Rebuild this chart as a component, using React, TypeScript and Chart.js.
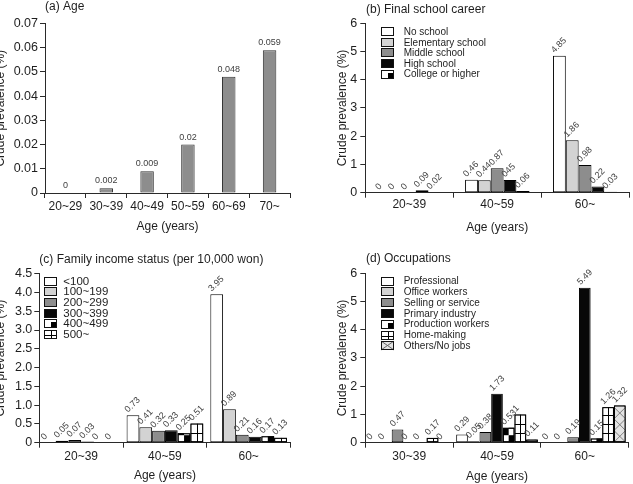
import React, { useEffect, useRef } from "react";
import { Chart, registerables } from "chart.js";

Chart.register(...registerables);

const FONT = "'Liberation Sans', Arial, Helvetica, sans-serif";
const TEXT = "#1e1e1e";
const AXIS = "#2a2a2a";
const VALUE_TEXT = "#404040";

// (a) Age
const ageGroups = ["20~29", "30~39", "40~49", "50~59", "60~69", "70~"];
const ageValues = [0, 0.002, 0.009, 0.02, 0.048, 0.059];

// (b) Final school career
const schoolAges = ["20~39", "40~59", "60~"];
const noSchool = [0, 0.46, 4.85];
const elementarySchool = [0, 0.44, 1.86];
const middleSchool = [0, 0.87, 0.98];
const highSchool = [0.09, 0.45, 0.22];
const highSchoolText = ["0.09", "045", "0.22"];
const collegeOrHigher = [0.02, 0.06, 0.03];

// (c) Family income status
const incomeAges = ["20~39", "40~59", "60~"];
const incomeBelow100 = [0, 0.73, 3.95];
const income100to199 = [0.05, 0.41, 0.89];
const income200to299 = [0.07, 0.32, 0.21];
const income300to399 = [0.03, 0.33, 0.16];
const income400to499 = [0, 0.25, 0.17];
const income500plus = [0, 0.51, 0.13];

// (d) Occupations
const occupationAges = ["30~39", "40~59", "60~"];
const professional = [0, 0.29, 0];
const officeWorkers = [0, 0.05, 0];
const sellingService = [0.47, 0.38, 0.19];
const primaryIndustry = [0, 1.73, 5.49];
const productionWorkers = [0, 0.53, 0.15];
const homeMaking = [0.17, 1, 1.26];
const othersNoJobs = [0, 0.11, 1.32];

type Fill = "white" | "light" | "mid" | "black" | "checker" | "grid" | "cross";

const FILL_COLOR: Record<Fill, string> = {
  white: "#ffffff",
  light: "#d3d3d3",
  mid: "#8d8d8d",
  black: "#080808",
  checker: "#ffffff",
  grid: "#ffffff",
  cross: "#e3e3e3",
};

interface Series {
  name: string;
  values: number[];
  fill: Fill;
  texts?: string[];
}

interface Panel {
  key: string;
  left: number;
  top: number;
  width: number;
  height: number;
  area: { l: number; r: number; t: number; b: number };
  heading: string;
  headingX: number;
  headingY: number;
  yTitleX: number;
  categories: string[];
  series: Series[];
  yMax: number;
  yStep: number;
  yFmt: (v: number) => string;
  yPad: number;
  xPad: number;
  xTitlePad: number;
  barPct: number;
  catPct: number;
  rotated: boolean;
  legend?: { boxX: number; textX: number; y0: number; step: number; size: number };
}

const panels: Panel[] = [
  {
    key: "a",
    left: 0,
    top: 0,
    width: 316,
    height: 240,
    area: { l: 45, r: 290, t: 23.5, b: 193 },
    heading: "(a) Age",
    headingX: 45,
    headingY: 7,
    yTitleX: 1,
    categories: ageGroups,
    series: [{ name: "Age", values: ageValues, fill: "mid" }],
    yMax: 0.07,
    yStep: 0.01,
    yFmt: (v) => (v === 0 ? "0" : v.toFixed(2)),
    yPad: 2,
    xPad: 1.5,
    xTitlePad: 6,
    barPct: 0.33,
    catPct: 1,
    rotated: false,
  },
  {
    key: "b",
    left: 316,
    top: 0,
    width: 317,
    height: 240,
    area: { l: 49.3, r: 313, t: 23.3, b: 192.7 },
    heading: "(b) Final school career",
    headingX: 50,
    headingY: 10,
    yTitleX: 26.7,
    categories: schoolAges,
    series: [
      { name: "No school", values: noSchool, fill: "white" },
      { name: "Elementary school", values: elementarySchool, fill: "light" },
      { name: "Middle school", values: middleSchool, fill: "mid" },
      { name: "High school", values: highSchool, fill: "black", texts: highSchoolText },
      { name: "College or higher", values: collegeOrHigher, fill: "checker" },
    ],
    yMax: 6,
    yStep: 1,
    yFmt: (v) => String(v),
    yPad: 3,
    xPad: 0,
    xTitlePad: 5,
    barPct: 1,
    catPct: 0.73,
    rotated: true,
    legend: { boxX: 65, textX: 87.7, y0: 31.7, step: 10.6, size: 10 },
  },
  {
    key: "c",
    left: 0,
    top: 240,
    width: 316,
    height: 244,
    area: { l: 39.3, r: 290.5, t: 33.7, b: 202.7 },
    heading: "(c) Family income status (per 10,000 won)",
    headingX: 39.3,
    headingY: 20,
    yTitleX: 1,
    categories: incomeAges,
    series: [
      { name: "<100", values: incomeBelow100, fill: "white" },
      { name: "100~199", values: income100to199, fill: "light" },
      { name: "200~299", values: income200to299, fill: "mid" },
      { name: "300~399", values: income300to399, fill: "black" },
      { name: "400~499", values: income400to499, fill: "checker" },
      { name: "500~", values: income500plus, fill: "grid" },
    ],
    yMax: 4.5,
    yStep: 0.5,
    yFmt: (v) => (v === 0 ? "0" : v.toFixed(1)),
    yPad: 2,
    xPad: 2,
    xTitlePad: 1,
    barPct: 1,
    catPct: 0.915,
    rotated: true,
    legend: { boxX: 44.3, textX: 63.3, y0: 41, step: 10.7, size: 11.5 },
  },
  {
    key: "d",
    left: 316,
    top: 240,
    width: 317,
    height: 244,
    area: { l: 49.3, r: 312.7, t: 33.3, b: 202.7 },
    heading: "(d) Occupations",
    headingX: 50,
    headingY: 19,
    yTitleX: 26.7,
    categories: occupationAges,
    series: [
      { name: "Professional", values: professional, fill: "white" },
      { name: "Office workers", values: officeWorkers, fill: "light" },
      { name: "Selling or service", values: sellingService, fill: "mid" },
      { name: "Primary industry", values: primaryIndustry, fill: "black" },
      { name: "Production workers", values: productionWorkers, fill: "checker" },
      { name: "Home-making", values: homeMaking, fill: "grid" },
      { name: "Others/No jobs", values: othersNoJobs, fill: "cross" },
    ],
    yMax: 6,
    yStep: 1,
    yFmt: (v) => String(v),
    yPad: 3,
    xPad: 2,
    xTitlePad: 0,
    barPct: 1,
    catPct: 0.93,
    rotated: true,
    legend: { boxX: 65, textX: 87.7, y0: 41, step: 10.8, size: 10 },
  },
];

function line(ctx: CanvasRenderingContext2D, x1: number, y1: number, x2: number, y2: number) {
  ctx.beginPath();
  ctx.moveTo(x1, y1);
  ctx.lineTo(x2, y2);
  ctx.stroke();
}

// Hatching drawn inside a bar's rectangle for the patterned series
function decorateBar(ctx: CanvasRenderingContext2D, fill: Fill, l: number, t: number, r: number, b: number) {
  const w = r - l;
  const h = b - t;
  if (h < 0.5 || w <= 0) return;
  if (fill !== "checker" && fill !== "grid" && fill !== "cross") return;
  ctx.save();
  ctx.beginPath();
  ctx.rect(l, t, w, h);
  ctx.clip();
  if (fill === "checker") {
    const cw = w / 2;
    const ch = 7;
    ctx.fillStyle = "#000";
    for (let row = 0; b - row * ch > t; row++) {
      for (let c = 0; c < 2; c++) {
        if ((row + c) % 2 === 1) ctx.fillRect(l + c * cw, b - (row + 1) * ch, cw, ch);
      }
    }
  } else if (fill === "grid") {
    ctx.strokeStyle = "#000";
    ctx.lineWidth = 1;
    const cx = Math.round(l + w / 2) + 0.5;
    line(ctx, cx, t, cx, b);
    for (let k = 1; b - k * 9 > t + 1; k++) {
      const yy = Math.round(b - k * 9) + 0.5;
      line(ctx, l, yy, r, yy);
    }
  } else {
    ctx.strokeStyle = "#666";
    ctx.lineWidth = 0.8;
    for (let k = 0; b - k * w > t - w; k++) {
      const y0 = b - k * w;
      line(ctx, l, y0, r, y0 - w);
      line(ctx, l, y0 - w, r, y0);
    }
  }
  ctx.restore();
  ctx.strokeStyle = "#000";
  ctx.lineWidth = 1;
  ctx.strokeRect(l + 0.5, t + 0.5, w - 1, Math.max(h - 1, 0));
}

function drawSwatch(ctx: CanvasRenderingContext2D, fill: Fill, x: number, y: number, w: number, h: number) {
  ctx.fillStyle = FILL_COLOR[fill];
  ctx.fillRect(x, y, w, h);
  ctx.lineWidth = 1;
  if (fill === "checker") {
    ctx.fillStyle = "#000";
    ctx.fillRect(x + Math.round(w * 0.55), y + 3, w - Math.round(w * 0.55), h - 3);
  } else if (fill === "grid") {
    ctx.strokeStyle = "#000";
    line(ctx, x + Math.round(w / 2) + 0.5, y, x + Math.round(w / 2) + 0.5, y + h);
    line(ctx, x, y + Math.round(h / 2) + 0.5, x + w, y + Math.round(h / 2) + 0.5);
  } else if (fill === "cross") {
    ctx.strokeStyle = "#666";
    line(ctx, x, y, x + w, y + h);
    line(ctx, x, y + h, x + w, y);
  }
  ctx.strokeStyle = "#111";
  ctx.strokeRect(x + 0.5, y + 0.5, w - 1, h - 1);
}

function panelPlugin(panel: Panel) {
  return {
    id: "panelDecor" + panel.key,
    afterDatasetsDraw(chart: any) {
      const ctx: CanvasRenderingContext2D = chart.ctx;
      // patterned fills
      panel.series.forEach((s, di) => {
        const meta = chart.getDatasetMeta(di);
        meta.data.forEach((bar: any) => {
          const p = bar.getProps(["x", "y", "base", "width"], true);
          decorateBar(ctx, s.fill, p.x - p.width / 2, Math.min(p.y, p.base), p.x + p.width / 2, Math.max(p.y, p.base));
        });
      });
      // value labels
      ctx.save();
      ctx.fillStyle = VALUE_TEXT;
      ctx.font = `9px ${FONT}`;
      panel.series.forEach((s, di) => {
        const meta = chart.getDatasetMeta(di);
        meta.data.forEach((bar: any, i: number) => {
          const p = bar.getProps(["x", "y", "width"], true);
          const text = s.texts ? s.texts[i] : String(s.values[i]);
          if (panel.rotated) {
            ctx.save();
            ctx.translate(p.x - p.width / 2 + 1.5, p.y - 2.5);
            ctx.rotate(-Math.PI / 4);
            ctx.textAlign = "left";
            ctx.textBaseline = "alphabetic";
            ctx.fillText(text, 0, 0);
            ctx.restore();
          } else {
            ctx.textAlign = "center";
            ctx.textBaseline = "alphabetic";
            ctx.fillText(text, p.x, p.y - 5);
          }
        });
      });
      ctx.restore();
    },
    afterDraw(chart: any) {
      const ctx: CanvasRenderingContext2D = chart.ctx;
      const area = chart.chartArea;
      ctx.save();
      ctx.fillStyle = TEXT;
      ctx.font = `12px ${FONT}`;
      ctx.textAlign = "left";
      ctx.textBaseline = "middle";
      ctx.fillText(panel.heading, panel.headingX, panel.headingY);

      ctx.save();
      ctx.translate(panel.yTitleX, (area.top + area.bottom) / 2);
      ctx.rotate(-Math.PI / 2);
      ctx.textAlign = "center";
      ctx.textBaseline = "middle";
      ctx.fillText("Crude prevalence (%)", 0, 0);
      ctx.restore();

      const lg = panel.legend;
      if (lg) {
        ctx.font = `${lg.size}px ${FONT}`;
        panel.series.forEach((s, i) => {
          const cy = lg.y0 + i * lg.step;
          drawSwatch(ctx, s.fill, Math.round(lg.boxX), Math.round(cy - 4.5), 13, 9);
          ctx.fillStyle = TEXT;
          ctx.textAlign = "left";
          ctx.textBaseline = "middle";
          ctx.fillText(s.name, lg.textX, cy + 0.5);
        });
      }
      ctx.restore();
    },
  };
}

function buildConfig(panel: Panel): any {
  const { area, width, height } = panel;
  return {
    type: "bar",
    data: {
      labels: panel.categories,
      datasets: panel.series.map((s) => ({
        label: s.name,
        data: s.values,
        backgroundColor: FILL_COLOR[s.fill],
        borderColor: panel.key === "a" ? "#333" : "#000",
        borderWidth: 1,
        borderSkipped: false,
        barPercentage: panel.barPct,
        categoryPercentage: panel.catPct,
      })),
    },
    options: {
      responsive: false,
      animation: false,
      devicePixelRatio: 1,
      layout: { padding: { left: 0, top: area.t, right: width - area.r, bottom: 0 } },
      plugins: { legend: { display: false }, tooltip: { enabled: false }, title: { display: false } },
      scales: {
        x: {
          type: "category",
          offset: true,
          grid: {
            display: true,
            offset: true,
            drawOnChartArea: false,
            drawTicks: true,
            tickLength: 5,
            color: AXIS,
            lineWidth: 1,
          },
          border: { display: true, color: AXIS, width: 1 },
          ticks: {
            font: { family: FONT, size: 12 },
            color: TEXT,
            padding: panel.xPad,
            maxRotation: 0,
            autoSkip: false,
          },
          title: {
            display: true,
            text: "Age (years)",
            font: { family: FONT, size: 12 },
            color: TEXT,
            padding: { top: 0, bottom: panel.xTitlePad },
          },
          afterFit: (s: any) => {
            s.height = height - area.b;
          },
        },
        y: {
          min: 0,
          max: panel.yMax,
          grid: {
            display: true,
            drawOnChartArea: false,
            drawTicks: true,
            tickLength: 5,
            color: AXIS,
            lineWidth: 1,
          },
          border: { display: true, color: AXIS, width: 1 },
          ticks: {
            stepSize: panel.yStep,
            callback: (v: any) => panel.yFmt(Number(v)),
            font: { family: FONT, size: 12.5 },
            color: TEXT,
            padding: panel.yPad,
          },
          afterFit: (s: any) => {
            s.width = area.l;
          },
        },
      },
    },
    plugins: [panelPlugin(panel)],
  };
}

function PanelChart({ panel }: { panel: Panel }) {
  const ref = useRef<HTMLCanvasElement>(null);
  useEffect(() => {
    if (!ref.current) return;
    const chart = new Chart(ref.current, buildConfig(panel));
    return () => chart.destroy();
  }, [panel]);
  return (
    <canvas
      ref={ref}
      width={panel.width}
      height={panel.height}
      style={{ position: "absolute", left: panel.left, top: panel.top, width: panel.width, height: panel.height }}
    />
  );
}

export default function App() {
  return (
    <div
      style={{
        position: "fixed",
        left: 0,
        top: 0,
        width: 633,
        height: 484,
        background: "#ffffff",
        overflow: "hidden",
      }}
    >
      {panels.map((p) => (
        <PanelChart key={p.key} panel={p} />
      ))}
    </div>
  );
}
